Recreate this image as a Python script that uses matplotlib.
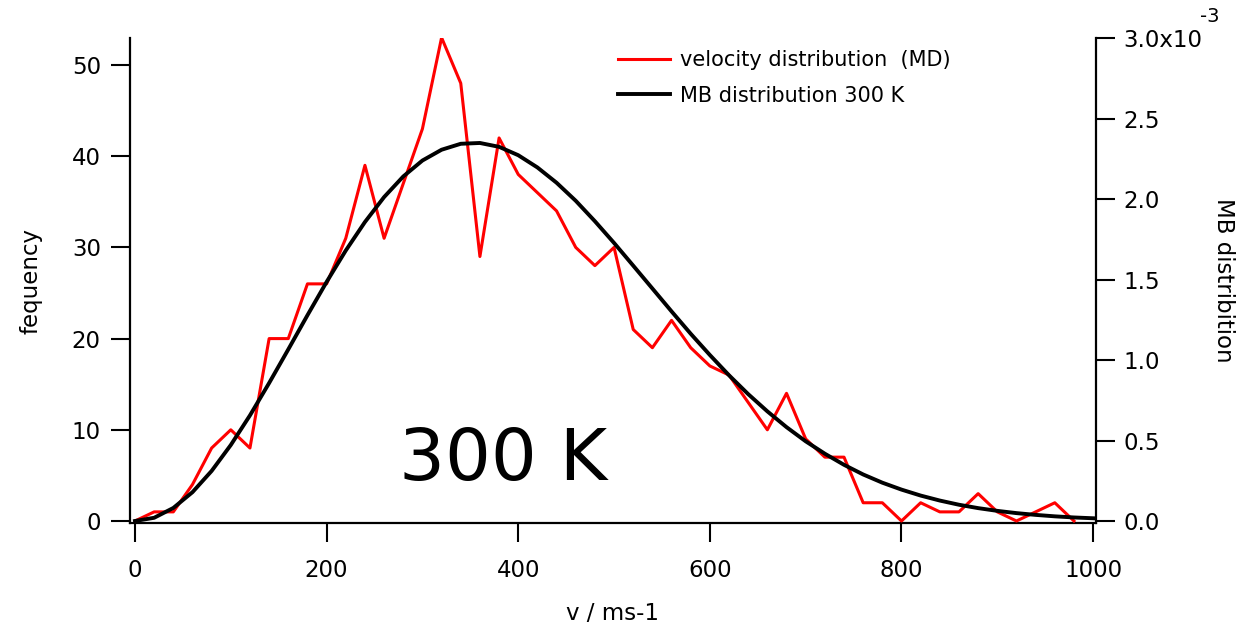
import matplotlib
matplotlib.use("Agg")
import matplotlib.pyplot as plt
from matplotlib import font_manager

# speeds (m/s) of the MD histogram bins and the counts in them
v_md = list(range(0, 1000, 20))
freq_md = [0, 1, 1, 4, 8, 10, 8, 20, 20, 26,
           26, 31, 39, 31, 37, 43, 53, 48, 29, 42,
           38, 36, 34, 30, 28, 30, 21, 19, 22, 19,
           17, 16, 13, 10, 14, 9, 7, 7, 2, 2,
           0, 2, 1, 1, 3, 1, 0, 1, 2, 0]

# Maxwell-Boltzmann curve
v_mb = list(range(0, 1001, 20))
mb_vals = [0.0, 2.0e-5, 8.1e-5, 1.79e-4, 3.11e-4, 4.72e-4, 6.56e-4, 8.57e-4, 1.066e-3, 1.278e-3,
           1.485e-3, 1.680e-3, 1.857e-3, 2.012e-3, 2.140e-3, 2.239e-3, 2.306e-3, 2.343e-3, 2.348e-3, 2.324e-3,
           2.272e-3, 2.196e-3, 2.101e-3, 1.989e-3, 1.862e-3, 1.727e-3, 1.586e-3, 1.444e-3, 1.302e-3, 1.163e-3,
           1.031e-3, 9.05e-4, 7.88e-4, 6.81e-4, 5.83e-4, 4.95e-4, 4.18e-4, 3.49e-4, 2.89e-4, 2.38e-4,
           1.95e-4, 1.58e-4, 1.27e-4, 1.01e-4, 8.0e-5, 6.3e-5, 4.9e-5, 3.8e-5, 2.9e-5, 2.2e-5,
           1.7e-5]

x_ticks = [0, 200, 400, 600, 800, 1000]
left_ticks = [0, 10, 20, 30, 40, 50]
right_ticks = [0.0, 0.5e-3, 1.0e-3, 1.5e-3, 2.0e-3, 2.5e-3, 3.0e-3]
right_labels = ["0.0", "0.5", "1.0", "1.5", "2.0", "2.5", "3.0x10"]

names = {f.name for f in font_manager.fontManager.ttflist}
if "Liberation Sans Narrow" in names:
    FONT, K = "Liberation Sans Narrow", 1.2
else:
    FONT, K = "DejaVu Sans", 1.0


def main():
    plt.rcParams['font.family'] = [FONT, 'DejaVu Sans']
    fs = 16.5 * K
    fig = plt.figure(figsize=(12.42, 6.28), dpi=100)
    ax = fig.add_axes([130/1242, 1 - 523/628, 966/1242, 485/628])
    ax2 = ax.twinx()

    l1, = ax.plot(v_md, freq_md, color='#ff0000', lw=2.2, zorder=3)
    l2, = ax2.plot(v_mb, mb_vals, color='black', lw=2.8, zorder=2)

    ax.set_xlim(-5.2, 1003)
    ax.set_ylim(-0.22, 52.96)
    ax2.set_ylim(-1.24e-5, 3.0e-3)

    ax.set_xticks(x_ticks)
    ax.set_yticks(left_ticks)
    ax2.set_yticks(right_ticks)
    ax2.set_yticklabels(right_labels)

    for a in (ax, ax2):
        a.spines['top'].set_visible(False)
        a.tick_params(which='major', direction='out', length=14, width=1.5,
                      labelsize=fs, color='black')
        for s in a.spines.values():
            s.set_linewidth(1.6)
    ax.spines['right'].set_visible(False)
    ax2.spines['left'].set_visible(False)
    ax2.spines['bottom'].set_visible(False)
    ax.tick_params(axis='y', pad=7)
    ax.tick_params(axis='x', pad=12)
    ax2.tick_params(axis='y', pad=6)

    ax.set_xlabel("v / ms-1", fontsize=fs, labelpad=14)
    ax.set_ylabel("fequency", fontsize=fs, labelpad=21)
    ax2.set_ylabel("MB distribition", fontsize=fs, rotation=-90, labelpad=23)

    fig.text(1200/1242, 1 - 16/628, "-3", fontsize=14*K, ha='left', va='center')
    fig.text(503/1242, 1 - 480/628, "300 K", fontsize=52*K, ha='center', va='baseline')

    ax2.legend([l1, l2], ["velocity distribution  (MD)", "MB distribution 300 K"],
               loc='upper left', bbox_to_anchor=(618/1242, 1 - 50/628),
               bbox_transform=fig.transFigure, frameon=False, fontsize=15*K,
               borderpad=0, borderaxespad=0, handlelength=2.5,
               handletextpad=0.5, labelspacing=0.75)

    fig.savefig("out.png", dpi=100)


if __name__ == "__main__":
    main()
